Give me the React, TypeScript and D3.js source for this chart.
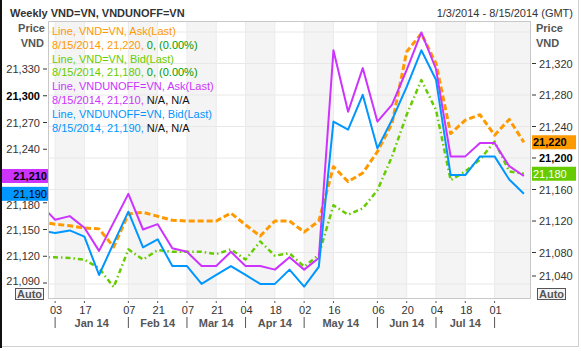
import * as d3 from "d3";

const W = 581;
const H = 351;

// weekly closes (Friday), Dec 27 2013 .. Aug 15 2014
const dates = [
  "2013-12-27", "2014-01-03", "2014-01-10", "2014-01-17", "2014-01-24", "2014-01-31",
  "2014-02-07", "2014-02-14", "2014-02-21", "2014-02-28", "2014-03-07", "2014-03-14",
  "2014-03-21", "2014-03-28", "2014-04-04", "2014-04-11", "2014-04-18", "2014-04-25",
  "2014-05-02", "2014-05-09", "2014-05-16", "2014-05-23", "2014-05-30", "2014-06-06",
  "2014-06-13", "2014-06-20", "2014-06-27", "2014-07-04", "2014-07-11", "2014-07-18",
  "2014-07-25", "2014-08-01", "2014-08-08", "2014-08-15",
];

// VND=VN (right axis)
const vndAsk = [
  21119, 21116, 21114, 21111, 21110, 21087, 21129, 21131, 21126, 21121, 21120, 21120,
  21120, 21130, 21115, 21101, 21120, 21120, 21106, 21120, 21189, 21170, 21181, 21208,
  21244, 21335, 21358, 21320, 21231, 21248, 21255, 21229, 21249, 21220,
];
const vndBid = [
  21074, 21074, 21073, 21071, 21060, 21036, 21084, 21071, 21083, 21081, 21081, 21081,
  21078, 21084, 21071, 21094, 21076, 21079, 21062, 21077, 21140, 21128, 21136, 21159,
  21202, 21255, 21299, 21261, 21172, 21183, 21198, 21221, 21183, 21180,
];
// VNDUNOFF=VN (left axis)
const unoffAsk = [
  21178, 21161, 21165, 21152, 21126, 21158, 21190, 21150, 21156, 21129, 21125, 21109,
  21109, 21125, 21109, 21109, 21105, 21119, 21105, 21118, 21351, 21282, 21331, 21271,
  21290, 21329, 21371, 21330, 21232, 21232, 21247, 21247, 21221, 21210,
];
const unoffBid = [
  21149, 21146, 21149, 21142, 21099, 21135, 21170, 21130, 21139, 21109, 21109, 21089,
  21099, 21109, 21099, 21089, 21089, 21105, 21086, 21108, 21271, 21262, 21301, 21241,
  21273, 21310, 21351, 21318, 21211, 21211, 21232, 21232, 21206, 21190,
];

// 21,210 sits under the purple tag, so it is not labelled
const leftTicks = [21090, 21120, 21150, 21180, 21240, 21270, 21300, 21330];
const rightTicks = [21040, 21080, 21120, 21160, 21200, 21240, 21280, 21320];
const gridTicks = [21040, 21080, 21120, 21160, 21200, 21240, 21280, 21320, 21360];
const leftBold = 21300;
const rightBold = 21200;

const xTickDates = [
  "2014-01-03", "2014-01-17", "2014-02-07", "2014-02-21", "2014-03-07", "2014-03-21",
  "2014-04-04", "2014-04-18", "2014-05-02", "2014-05-16", "2014-06-06", "2014-06-20",
  "2014-07-04", "2014-07-18", "2014-08-01",
];
const monthStarts = [
  "2014-01-03", "2014-02-07", "2014-03-07", "2014-04-04", "2014-05-02", "2014-06-06",
  "2014-07-04", "2014-08-01",
];
const monthLabels = ["Jan 14", "Feb 14", "Mar 14", "Apr 14", "May 14", "Jun 14", "Jul 14"];
const bandEnds = [
  "2014-01-17", "2014-02-21", "2014-03-21", "2014-04-18", "2014-05-16", "2014-06-20",
  "2014-07-18", "2014-08-20",
];

const ORANGE = "#ff9900";
const GREEN = "#66cc00";
const PURPLE = "#cc33ff";
const BLUE = "#0096ff";
const DARKGREEN = "#009900";

const legendRows = [
  [{ t: "Line, VND=VN, Ask(Last)", c: ORANGE }],
  [{ t: "8/15/2014, 21,220, ", c: ORANGE }, { t: "0, (0.00%)", c: DARKGREEN }],
  [{ t: "Line, VND=VN, Bid(Last)", c: GREEN }],
  [{ t: "8/15/2014, 21,180, ", c: GREEN }, { t: "0, (0.00%)", c: DARKGREEN }],
  [{ t: "Line, VNDUNOFF=VN, Ask(Last)", c: PURPLE }],
  [{ t: "8/15/2014, 21,210, ", c: PURPLE }, { t: "N/A, N/A", c: "#111" }],
  [{ t: "Line, VNDUNOFF=VN, Bid(Last)", c: BLUE }],
  [{ t: "8/15/2014, 21,190, ", c: BLUE }, { t: "N/A, N/A", c: "#111" }],
];

const parse = d3.utcParse("%Y-%m-%d");
const fmt = d3.format(",");

export default function App() {
  const plot = { left: 48, right: 531, top: 21, bottom: 298 };
  const pad = 3.4 * 864e5;
  const x = d3
    .scaleUtc()
    .domain([+parse("2014-01-03")! - pad, +parse("2014-08-15")! + pad])
    .range([plot.left, plot.right]);
  const yL = d3.scaleLinear().domain([21090, 21330]).range([283, 69]);
  const yR = d3.scaleLinear().domain([21040, 21360]).range([284, 32]);

  const pts = dates.map((d) => parse(d)!);
  const mkLine = (vals: number[], y: d3.ScaleLinear<number, number>) =>
    d3
      .line<number>()
      .x((_, i) => x(pts[i]))
      .y((v) => y(v))(vals) || "";

  const series = [
    { vals: vndAsk, y: yR, color: ORANGE, w: 3, dash: "6,3" },
    { vals: vndBid, y: yR, color: GREEN, w: 2.5, dash: "5,3,1.5,3" },
    { vals: unoffAsk, y: yL, color: PURPLE, w: 2, dash: undefined },
    { vals: unoffBid, y: yL, color: BLUE, w: 2, dash: undefined },
  ];

  const font = "'Liberation Sans', Arial, sans-serif";
  const axisColor = "#333";
  const last = (a: number[]) => a[a.length - 1];

  return (
    <svg
      width={W}
      height={H}
      style={{ position: "absolute", left: 0, top: 0, background: "#fff" }}
      fontFamily={font}
    >
      <defs>
        <clipPath id="plotClip">
          <rect x={plot.left} y={plot.top} width={plot.right - plot.left} height={plot.bottom - plot.top} />
        </clipPath>
      </defs>

      {/* outer frame */}
      <rect x={0} y={0} width={W} height={H} fill="#fff" />
      <rect x={0} y={0} width={2} height={348} fill="#111" />
      <line x1={2} y1={346.5} x2={579} y2={346.5} stroke="#d0d0d0" />
      <line x1={578.5} y1={0} x2={578.5} y2={347} stroke="#d0d0d0" />

      {/* title */}
      <text x={10} y={17} fontSize={11} fontWeight="bold" fill="#333">
        Weekly VND=VN, VNDUNOFF=VN
      </text>
      <text x={573} y={17} fontSize={11} fill="#333" textAnchor="end">
        1/3/2014 - 8/15/2014 (GMT)
      </text>

      {/* month bands */}
      {monthStarts.map((s, i) => (
        <rect
          key={"b" + i}
          x={x(parse(s)!)}
          y={plot.top}
          width={Math.min(x(parse(bandEnds[i])!), plot.right) - x(parse(s)!)}
          height={plot.bottom - plot.top}
          fill="#f4f4f4"
        />
      ))}

      {/* grid */}
      {gridTicks.map((t) => (
        <line key={"g" + t} x1={plot.left} x2={plot.right} y1={yR(t)} y2={yR(t)} stroke="#e8e8e8" />
      ))}
      {xTickDates.map((d) => (
        <line key={"v" + d} x1={x(parse(d)!)} x2={x(parse(d)!)} y1={plot.top} y2={plot.bottom} stroke="#ebebeb" />
      ))}

      {/* legend */}
      {legendRows.map((row, i) => (
        <text key={"lg" + i} x={52} y={35 + i * 13.8} fontSize={11} style={{ whiteSpace: "pre" }}>
          {row.map((s, j) => (
            <tspan key={j} fill={s.c}>
              {s.t}
            </tspan>
          ))}
        </text>
      ))}

      {/* series */}
      <g clipPath="url(#plotClip)">
        {series.map((s, i) => (
          <path
            key={"s" + i}
            d={mkLine(s.vals, s.y)}
            fill="none"
            stroke={s.color}
            strokeWidth={s.w}
            strokeDasharray={s.dash}
            strokeLinejoin="round"
          />
        ))}
      </g>

      {/* plot border */}
      <rect
        x={plot.left + 0.5}
        y={plot.top + 0.5}
        width={plot.right - plot.left - 1}
        height={plot.bottom - plot.top}
        fill="none"
        stroke="#c8c8c8"
      />

      {/* left axis */}
      <text x={45} y={32} fontSize={11} fontWeight="bold" fill="#555" textAnchor="end">Price</text>
      <text x={44} y={47} fontSize={11} fontWeight="bold" fill="#555" textAnchor="end">VND</text>
      {leftTicks.map((t) => (
        <g key={"lt" + t}>
          <line x1={43} x2={47} y1={yL(t)} y2={yL(t)} stroke="#333" />
          <text
            x={40}
            y={t === 21180 ? yL(t) + 6 : t === 21090 ? yL(t) + 2 : yL(t) + 4}
            fontSize={11}
            textAnchor="end"
            fill={t === leftBold ? "#000" : axisColor}
            fontWeight={t === leftBold ? "bold" : "normal"}
          >
            {fmt(t)}
          </text>
        </g>
      ))}

      {/* right axis */}
      <text x={536} y={32} fontSize={11} fontWeight="bold" fill="#555">Price</text>
      <text x={536} y={47} fontSize={11} fontWeight="bold" fill="#555">VND</text>
      {rightTicks.map((t) => {
        const ty = Math.min(yR(t), 276);
        return (
          <g key={"rt" + t}>
            <line x1={532} x2={536} y1={ty} y2={ty} stroke="#333" />
            <text
              x={539}
              y={ty + 4}
              fontSize={11}
              fill={t === rightBold ? "#000" : axisColor}
              fontWeight={t === rightBold ? "bold" : "normal"}
            >
              {fmt(t)}
            </text>
          </g>
        );
      })}

      {/* last value tags */}
      <rect x={2} y={yL(last(unoffAsk)) - 7} width={46} height={14} fill={PURPLE} />
      <text x={47} y={yL(last(unoffAsk)) + 4} fontSize={11} fontWeight="bold" textAnchor="end" fill="#000">
        {fmt(last(unoffAsk))}
      </text>
      <rect x={2} y={yL(last(unoffBid)) - 7} width={46} height={14} fill={BLUE} />
      <text x={47} y={yL(last(unoffBid)) + 4} fontSize={11} textAnchor="end" fill="#000">
        {fmt(last(unoffBid))}
      </text>
      <rect x={532} y={yR(last(vndAsk)) - 7} width={44} height={14} fill={ORANGE} />
      <text x={533} y={yR(last(vndAsk)) + 4} fontSize={11} fontWeight="bold" fill="#000">
        {fmt(last(vndAsk))}
      </text>
      <rect x={532} y={yR(last(vndBid)) - 7} width={44} height={14} fill={GREEN} />
      <text x={533} y={yR(last(vndBid)) + 4} fontSize={11} fill="#fff">
        {fmt(last(vndBid))}
      </text>

      {/* auto buttons */}
      <rect x={15.5} y={288.5} width={28} height={11} fill="#f4f4f4" stroke="#555" />
      <text x={29.5} y={298} fontSize={11} fontWeight="bold" fill="#555" textAnchor="middle">Auto</text>
      <rect x={537.5} y={288.5} width={28} height={11} fill="#f4f4f4" stroke="#555" />
      <text x={551.5} y={298} fontSize={11} fontWeight="bold" fill="#555" textAnchor="middle">Auto</text>

      {/* x axis */}
      {xTickDates.map((d) => {
        const px = x(parse(d)!);
        return (
          <g key={"xt" + d}>
            <line x1={px} x2={px} y1={301} y2={303} stroke="#555" />
            <text x={px + 1} y={314} fontSize={11} fill={axisColor} textAnchor="middle">
              {d3.utcFormat("%d")(parse(d)!)}
            </text>
          </g>
        );
      })}
      {monthStarts.map((d) => (
        <line key={"ms" + d} x1={x(parse(d)!)} x2={x(parse(d)!)} y1={317} y2={328} stroke="#555" />
      ))}
      {monthLabels.map((m, i) => (
        <text
          key={"ml" + m}
          x={(x(parse(monthStarts[i])!) + x(parse(monthStarts[i + 1])!)) / 2}
          y={327}
          fontSize={11}
          fontWeight="bold"
          fill="#555"
          textAnchor="middle"
        >
          {m}
        </text>
      ))}
    </svg>
  );
}
